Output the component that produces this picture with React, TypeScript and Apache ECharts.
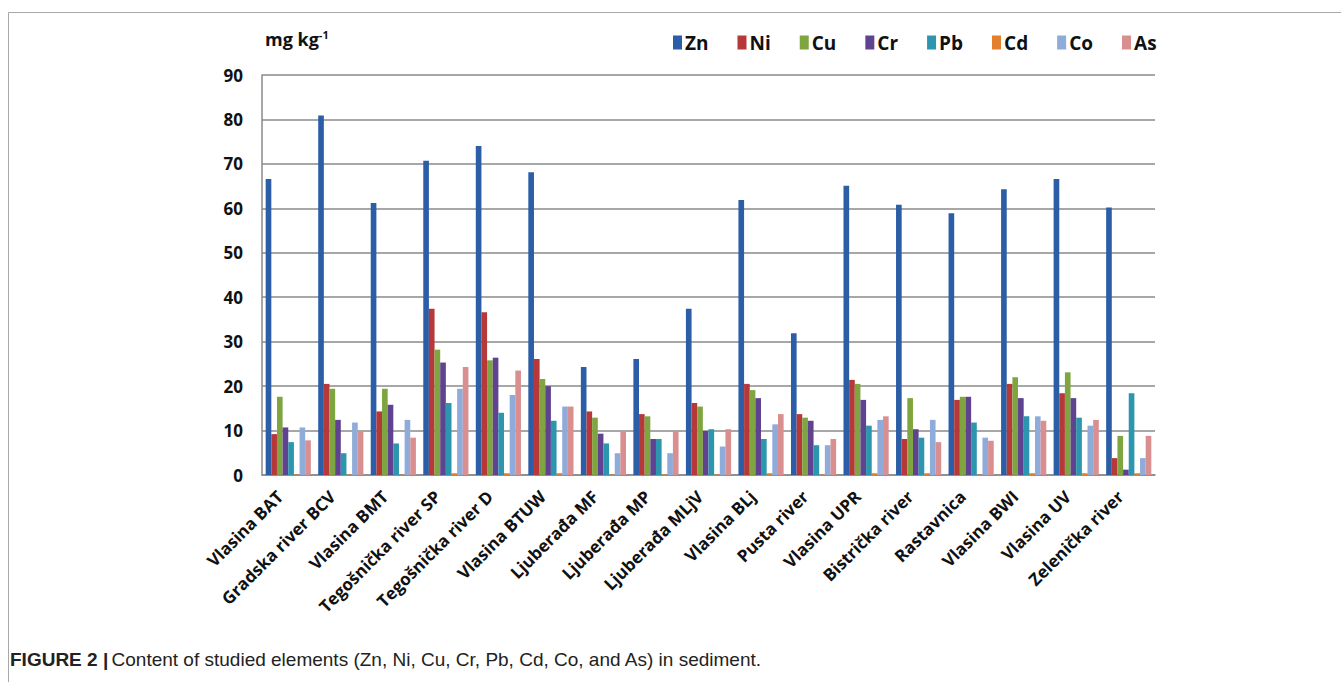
import React, { useEffect, useRef } from "react";
import * as echarts from "echarts";

const categories = [
  "Vlasina BAT", "Gradska river BCV", "Vlasina BMT", "Tegošnička river SP", "Tegošnička river D",
  "Vlasina BTUW", "Ljuberađa MF", "Ljuberađa MP", "Ljuberađa MLjV", "Vlasina BLj", "Pusta river",
  "Vlasina UPR", "Bistrička river", "Rastavnica", "Vlasina BWI", "Vlasina UV", "Zelenička river",
];

const zn = [66.6, 80.9, 61.2, 70.7, 74.0, 68.1, 24.3, 26.1, 37.4, 61.9, 31.9, 65.1, 60.8, 58.9, 64.3, 66.6, 60.2];
const ni = [9.2, 20.5, 14.3, 37.4, 36.6, 26.1, 14.3, 13.7, 16.2, 20.5, 13.7, 21.4, 8.1, 16.9, 20.5, 18.4, 3.8];
const cu = [17.6, 19.4, 19.4, 28.2, 25.8, 21.6, 12.9, 13.2, 15.4, 19.1, 12.9, 20.5, 17.3, 17.6, 22.0, 23.1, 8.8];
const cr = [10.7, 12.4, 15.8, 25.3, 26.4, 20.0, 9.3, 8.1, 9.9, 17.3, 12.2, 16.9, 10.3, 17.6, 17.3, 17.3, 1.2];
const pb = [7.4, 4.9, 7.1, 16.2, 14.0, 12.2, 7.1, 8.1, 10.3, 8.1, 6.7, 11.1, 8.4, 11.8, 13.2, 12.9, 18.4];
const cd = [0.1, 0.1, 0.1, 0.4, 0.4, 0.4, 0.1, 0.1, 0.1, 0.4, 0.1, 0.4, 0.4, 0.1, 0.4, 0.4, 0.4];
const co = [10.7, 11.8, 12.4, 19.4, 18.0, 15.4, 4.9, 4.9, 6.4, 11.4, 6.7, 12.4, 12.4, 8.4, 13.2, 11.1, 3.8];
const as = [7.8, 9.9, 8.4, 24.3, 23.5, 15.4, 9.7, 9.9, 10.3, 13.7, 8.1, 13.2, 7.4, 7.7, 12.2, 12.4, 8.8];

const seriesNames = ["Zn", "Ni", "Cu", "Cr", "Pb", "Cd", "Co", "As"];
const seriesData = [zn, ni, cu, cr, pb, cd, co, as];
const colors = ["#2B5EA6", "#B6393A", "#7EA53F", "#5F4290", "#2C96AE", "#E4802C", "#8FABD9", "#D98F90"];

const yTicks = { min: 0, max: 90, interval: 10 };

export default function App() {
  const ref = useRef<HTMLDivElement>(null);
  useEffect(() => {
    if (!ref.current) return;
    const chart = echarts.init(ref.current, undefined, { renderer: "svg" });
    chart.setOption({
      animation: false,
      backgroundColor: "#fff",
      color: colors,
      grid: { left: 262, right: 186, top: 75, bottom: 207, containLabel: false, outerBoundsMode: "none" },
      legend: {
        data: seriesNames,
        left: 668,
        top: 28,
        itemWidth: 9,
        itemHeight: 14,
        itemGap: 29,
        icon: "rect",
        textStyle: { fontFamily: "Open Sans", fontWeight: "bold", fontSize: 19, color: "#111", padding: [0, 0, 0, -2] },
      },
      xAxis: {
        type: "category",
        data: categories,
        axisLine: { lineStyle: { color: "#8a8a8a", width: 1.5 } },
        axisTick: { show: false },
        axisLabel: {
          interval: 0,
          rotate: 45,
          margin: 10,
          padding: [0, 12, 0, 0],
          fontFamily: "Open Sans",
          fontWeight: "bold",
          fontSize: 17,
          color: "#111",
        },
      },
      yAxis: {
        type: "value",
        min: yTicks.min,
        max: yTicks.max,
        interval: yTicks.interval,
        axisLine: { show: true, lineStyle: { color: "#8a8a8a", width: 1.5 } },
        axisTick: { show: false },
        splitLine: { lineStyle: { color: "#8a8a8a", width: 1.5 } },
        axisLabel: {
          margin: 19,
          fontFamily: "Open Sans",
          fontWeight: "bold",
          fontSize: 17,
          color: "#111",
        },
      },
      series: seriesNames.map((name, i) => ({
        name,
        type: "bar",
        data: seriesData[i],
        barGap: "0%",
        barCategoryGap: "14%",
        itemStyle: { color: colors[i] },
      })),
      graphic: [
        { type: "line", shape: { x1: 8.5, y1: 12.5, x2: 1341, y2: 12.5 }, style: { stroke: "#a8a8a8", lineWidth: 1 } },
        { type: "line", shape: { x1: 8.5, y1: 12.5, x2: 8.5, y2: 682 }, style: { stroke: "#a8a8a8", lineWidth: 1 } },
        {
          type: "text",
          left: 265,
          top: 29,
          style: {
            text: "{a|mg kg}{s|-1}",
            rich: {
              a: { fontFamily: "Open Sans", fontWeight: "bold", fontSize: 18, fill: "#111" },
              s: { fontFamily: "Open Sans", fontWeight: "bold", fontSize: 11, fill: "#111", verticalAlign: "top", padding: [0, 0, 8, 0] },
            },
          },
        },
        {
          type: "text",
          left: 10,
          top: 650,
          style: {
            text: "{b|FIGURE 2 |} {n|Content of studied elements (Zn, Ni, Cu, Cr, Pb, Cd, Co, and As) in sediment.}",
            rich: {
              b: { fontFamily: "Liberation Sans", fontWeight: "bold", fontSize: 19, fill: "#222" },
              n: { fontFamily: "Liberation Sans", fontSize: 19, fill: "#222" },
            },
          },
        },
      ],
    });
    return () => chart.dispose();
  }, []);
  return <div ref={ref} style={{ position: "absolute", left: 0, top: 0, width: 1341, height: 682 }} />;
}
